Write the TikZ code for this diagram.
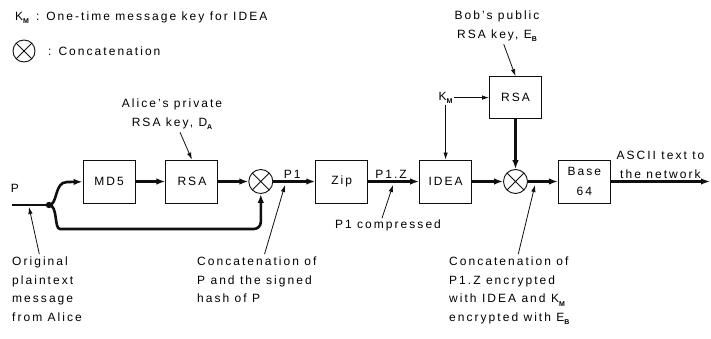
\documentclass[tikz,border=0pt]{standalone}
\usepackage{fontspec}
\setmainfont{Liberation Sans}[LetterSpace=17]
\usetikzlibrary{arrows.meta,calc,positioning}
\definecolor{WireBlack}{RGB}{15,15,15}
\newcommand{\lowsub}[1]{\raisebox{-0.5ex}{\fontsize{7}{7}\selectfont\bfseries #1}}

\begin{document}
\begin{tikzpicture}[x=1pt,y=-1pt,>=Latex,
  box/.style={draw=WireBlack,line width=0.9pt,minimum width=52pt,minimum height=43pt,inner sep=0pt,align=center,font=\fontsize{12}{20}\selectfont},
  cat/.style={draw=WireBlack,line width=0.9pt,circle,minimum size=24pt,inner sep=0pt,
    path picture={\draw[line width=0.9pt] (path picture bounding box.north west)--(path picture bounding box.south east)
      (path picture bounding box.south west)--(path picture bounding box.north east);}},
  lbl/.style={font=\fontsize{12}{18.5}\selectfont,inner sep=1pt},
  flow/.style={draw=WireBlack,line width=2.6pt,-{Latex[length=9pt,width=6.5pt]}},
  note/.style={draw=WireBlack,line width=0.8pt,-{Latex[length=7pt,width=4.5pt]}}]
\useasboundingbox (0,0) rectangle (711,339);
% legend
\node[lbl,anchor=west] (kleg) at (14,18) {K\lowsub{M}\hspace{7pt}:\hspace{7pt}One-time message key for IDEA};
\node[cat,minimum size=22pt] (catleg) at (24,51) {};
\node[lbl,anchor=west] (catlbl) at (47,51) {:\hspace{7pt}Concatenation};
% main chain
\node[box] (md5) at (109,181.5) {MD5};
\node[box,right=30pt of md5] (rsa1) {RSA};
\node[cat,right=30pt of rsa1] (c1) {};
\node[box,right=42pt of c1] (zip) {Zip};
\node[box,right=51pt of zip] (idea) {IDEA};
\node[cat,right=31pt of idea] (c2) {};
\node[box,right=30pt of c2] (b64) {Base\\64};
\node[box,minimum height=42pt,above=50pt of c2] (rsa2) {RSA};
\node[lbl] (km) at (idea.north |- rsa2.west) {K\lowsub{M}};
\coordinate (pin) at (12,205);
\coordinate (jn) at (49,205);
\coordinate (out) at (710,181.5);
\node[lbl] (plbl) at (15,188) {P};
\draw[draw=WireBlack,line width=2.6pt] (pin) -- (jn);
\fill[WireBlack] (jn) circle (3.2pt);
\draw[flow] (jn) .. controls (58,205) and (54,182) .. (67,182) -- (md5);
\draw[flow,rounded corners=7pt] (jn) .. controls (58,205) and (54,229) .. (67,229) -| (c1);
\draw[flow] (md5) -- (rsa1);
\draw[flow] (rsa1) -- (c1);
\draw[flow] (c1) -- node[lbl,above=1pt,pos=0.45] (p1) {P1} (zip);
\draw[flow] (zip) -- node[lbl,above=1pt,pos=0.45] (p1z) {P1.Z} (idea);
\draw[flow] (idea) -- (c2);
\draw[flow] (rsa2) -- (c2);
\draw[flow] (c2) -- (b64);
\draw[flow] (b64) -- node[lbl,above=1pt,align=center] (ascii) {ASCII text to\\the network} (out);
\draw[note] (km) -- (rsa2);
\draw[note] (km) -- (idea);
% key notes
\node[lbl,align=center] (alicekey) at (172,114) {Alice's private\\RSA key, D\lowsub{A}};
\draw[note,shorten <=2pt] (alicekey) -- (rsa1.north);
\node[lbl,align=center] (bobkey) at (497,26) {Bob's public\\RSA key, E\lowsub{B}};
\draw[note,shorten <=2pt] (bobkey) -- (rsa2.north);
% lower notes
\coordinate (ptap) at (29,207);
\coordinate (p1tap) at (285,185);
\coordinate (ztap) at (393,185);
\coordinate (etap) at (535,185);
\node[lbl,align=left,anchor=north west] (origtxt) at (11,256) {Original\\plaintext\\message\\from Alice};
\draw[note,shorten <=2pt] (origtxt) -- (ptap);
\node[lbl,align=left,anchor=north west] (sigtxt) at (196,256) {Concatenation of\\P and the signed\\hash of P};
\draw[note,shorten <=2pt] (sigtxt) -- (p1tap);
\node[lbl] (comptxt) at (388,225) {P1 compressed};
\draw[note] ([xshift=-6pt]comptxt.north) -- (ztap);
\node[lbl,align=left,anchor=north west] (enctxt) at (448,256) {Concatenation of\\P1.Z encrypted\\with IDEA and K\lowsub{M}\\encrypted with E\lowsub{B}};
\draw[note,shorten <=2pt] (enctxt) -- (etap);
\end{tikzpicture}
\end{document}
